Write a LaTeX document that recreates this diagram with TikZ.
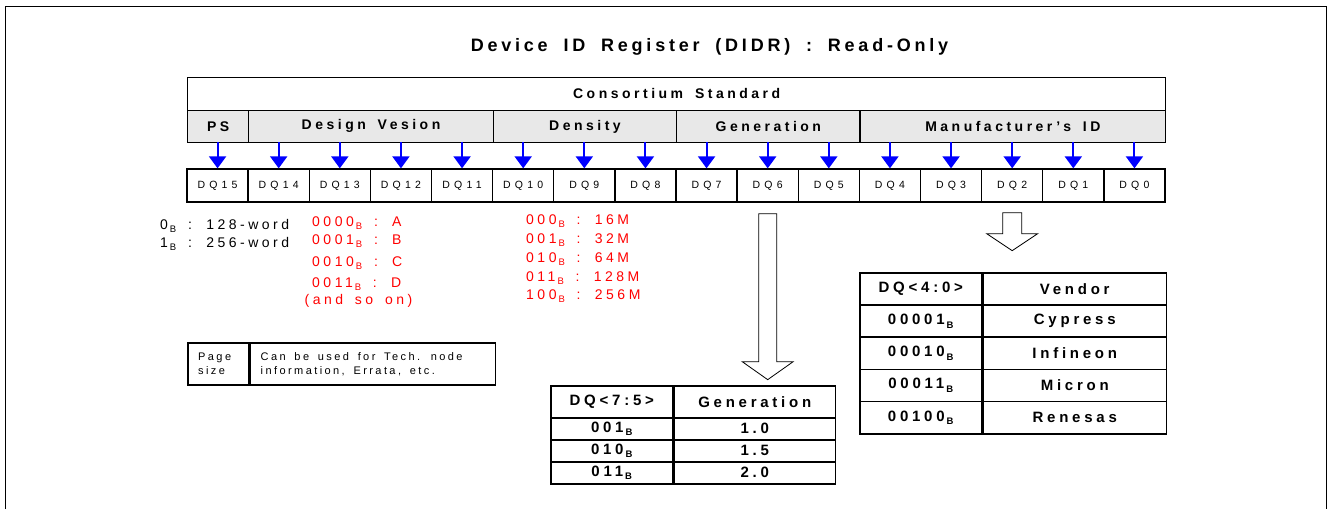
\documentclass[tikz,border=0pt]{standalone}
\usepackage{fontspec}
\setmainfont{Liberation Sans}
\newfontfamily\widefont[LetterSpace=25,WordSpace=1.6]{Liberation Sans}
\newfontfamily\titlefont[LetterSpace=21,WordSpace=1.8]{Liberation Sans}
\newfontfamily\smallfont[LetterSpace=22,WordSpace=1.6]{Liberation Sans}
\newfontfamily\dqfont[LetterSpace=40]{Liberation Sans}
\usepackage{tikz}
\usetikzlibrary{positioning,arrows.meta,calc}
\newcommand{\subB}{\kern2pt\raisebox{-3.5pt}{\fontsize{9.5}{9.5}\selectfont B}}
\tikzstyle{reg} = [draw, rectangle, line width=1.3pt, inner sep=0pt]
\tikzstyle{field} = [reg, fill=gray!18, minimum height=32.5pt,
    font=\widefont\bfseries\fontsize{14}{16}\selectfont]
\tikzstyle{bitcell} = [reg, minimum width=61.125pt, minimum height=33pt,
    font=\dqfont\fontsize{10.5}{12}\selectfont]
\tikzstyle{bitarrow} = [-{Triangle[width=17pt,length=12pt]}, blue, line width=2pt]
\tikzstyle{note} = [inner sep=0pt, anchor=base west,
    font=\widefont\fontsize{14}{17}\selectfont]
\tikzstyle{rednote} = [note, text=red]
\tikzstyle{boxtext} = [inner sep=0pt, anchor=west, align=left,
    font=\smallfont\fontsize{11}{14}\selectfont]
\tikzstyle{cell} = [draw, line width=1.5pt, inner sep=0pt,
    font=\widefont\bfseries\fontsize{15}{17}\selectfont]
\tikzstyle{hollow} = [draw, line width=0.8pt, fill=white]

\begin{document}
\begin{tikzpicture}[x=1pt,y=-1pt]
	\useasboundingbox (0,0) rectangle (1329,509);
	\draw[line width=1pt] (5.5,509) -- (5.5,6.5) -- (1326.5,6.5) -- (1326.5,509);
	
	\node[anchor=base, inner sep=0pt, font=\titlefont\bfseries\fontsize{18}{20}\selectfont] (title) at (709.5,51) {Device ID Register (DIDR) : Read-Only};
	
	% register
	\node[reg, anchor=north west, minimum width=978pt, minimum height=32.5pt,
		font=\widefont\bfseries\fontsize{14}{16}\selectfont] (cons) at (187,77) {Consortium Standard};
	\foreach \fname/\flabel/\fhi/\flo in {fps/PS/15/15, fdv/Design Vesion/14/11, fden/Density/10/8, fgen/Generation/7/5, fmid/Manufacturer’s ID/4/0}{
		\pgfmathsetmacro\fw{(\fhi-\flo+1)*61.125}
		\pgfmathsetmacro\fx{187+(15-\fhi)*61.125}
		\node[field, anchor=north west, minimum width=\fw pt] (\fname) at (\fx,109.5) {\flabel};
	}
	\coordinate (fieldbase) at (0,142);
	\foreach \i in {0,...,15}{
		\pgfmathsetmacro\cx{187+(15.5-\i)*61.125}
		\node[bitcell] (dq\i) at (\cx,185.5) {DQ\i};
		\draw[bitarrow] (dq\i.north |- fieldbase) -- (dq\i.north);
	}
	
	% notes
	\node[note] (ps0) at (160,229) {0\subB\ : 128-word};
	\node[note] (ps1) at (160,247) {1\subB\ : 256-word};
	
	\node[rednote] (dv0) at (312,226) {0000\subB\ : A};
	\node[rednote] (dv1) at (312,244) {0001\subB\ : B};
	\node[rednote] (dv2) at (312,266) {0010\subB\ : C};
	\node[rednote] (dv3) at (312,287) {0011\subB\ : D};
	\node[rednote, anchor=base] (dvmore) at (358.5,304) {(and so on)};
	
	\node[rednote] (den0) at (526,224) {000\subB\ : 16M};
	\node[rednote] (den1) at (526,243) {001\subB\ : 32M};
	\node[rednote] (den2) at (526,262) {010\subB\ : 64M};
	\node[rednote] (den3) at (526,281) {011\subB\ : 128M};
	\node[rednote] (den4) at (526,299) {100\subB\ : 256M};
	
	% page size box
	\node[reg, anchor=north west, line width=1.5pt, minimum width=61pt, minimum height=42pt] (pgsz) at (187,342) {};
	\node[reg, right=0pt of pgsz, line width=1.5pt, minimum width=245pt, minimum height=42pt] (pgnote) {};
	\node[boxtext] (pgszt) at ([xshift=11pt]pgsz.west) {Page\\size};
	\node[boxtext] (pgnotet) at ([xshift=11pt]pgnote.west) {Can be used for Tech. node\\information, Errata, etc.};
	
	% hollow arrows
	\draw[hollow] ($(dq6.south)+(-9,11)$) -- ($(dq6.south)+(-9,159)$) -- ($(dq6.south)+(-25.5,159)$)
		-- ($(dq6.south)+(0,177)$) -- ($(dq6.south)+(25.5,159)$) -- ($(dq6.south)+(9,159)$)
		-- ($(dq6.south)+(9,11)$) -- cycle;
	\draw[hollow] ($(dq2.south)+(-9.5,10)$) -- ($(dq2.south)+(-9.5,31)$) -- ($(dq2.south)+(-25.5,31)$)
		-- ($(dq2.south)+(0,48)$) -- ($(dq2.south)+(25.5,31)$) -- ($(dq2.south)+(9.5,31)$)
		-- ($(dq2.south)+(9.5,10)$) -- cycle;
	
	% generation table
	\node[cell, anchor=north west, minimum width=122pt, minimum height=32pt] (gh1) at (550,385) {DQ<7:5>};
	\node[cell, right=0pt of gh1, minimum width=161pt, minimum height=32pt] (gh2) {Generation};
	\foreach \code/\val [count=\r] in {001/1.0, 010/1.5, 011/2.0}{
		\node[cell, anchor=north west, minimum width=122pt, minimum height=22pt] (gc\r) at (550,395+22*\r) {\code\subB};
		\node[cell, right=0pt of gc\r, minimum width=161pt, minimum height=22pt] (gv\r) {\val};
	}
	
	% vendor table
	\node[cell, anchor=north west, minimum width=122pt, minimum height=32.2pt] (vh1) at (859,272) {DQ<4:0>};
	\node[cell, right=0pt of vh1, minimum width=183pt, minimum height=32.2pt] (vh2) {Vendor};
	\foreach \code/\val [count=\r] in {00001/Cypress, 00010/Infineon, 00011/Micron, 00100/Renesas}{
		\node[cell, anchor=north west, minimum width=122pt, minimum height=32.2pt] (vc\r) at (859,272+32.2*\r) {\code\subB};
		\node[cell, right=0pt of vc\r, minimum width=183pt, minimum height=32.2pt] (vv\r) {\val};
	}
\end{tikzpicture}
\end{document}
